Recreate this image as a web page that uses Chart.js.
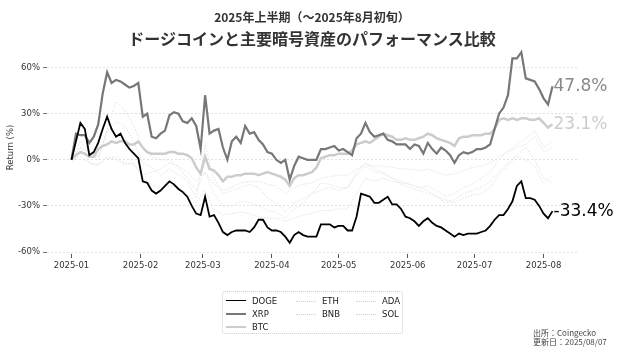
<!DOCTYPE html>
<html lang="ja">
<head>
<meta charset="utf-8">
<script src="https://cdn.jsdelivr.net/npm/chart.js@4.4.0/dist/chart.umd.min.js"></script>
<style>
  body { margin: 0; background: #fff; }
  #wrap { position: relative; width: 624px; height: 351px; font-family: 'DejaVu Sans', sans-serif; color: #333; }
  #chart { position: absolute; left: 0; top: 0; }
  .title { position: absolute; left: 0; width: 624px; text-align: center; font-family: 'Noto Sans CJK JP', sans-serif; font-weight: bold; color: #333; }
  #title1 { top: 10px; font-size: 12px; line-height: 14px; }
  #title2 { top: 28px; font-size: 16px; line-height: 20px; }
  #legend { position: absolute; left: 222px; top: 291px; width: 179px; height: 41px; border: 1px dotted #ccc; border-radius: 3px; }
  .lg-line { position: absolute; width: 20px; height: 0; }
  .lg-text { position: absolute; font-size: 8.5px; line-height: 10px; color: #222; }
  #source { position: absolute; left: 533px; top: 329px; font-family: 'Noto Sans CJK JP', sans-serif; font-size: 8px; line-height: 8.5px; color: #444; }
</style>
</head>
<body>
<div id="wrap">
  <canvas id="chart" width="624" height="351"></canvas>
  <div class="title" id="title1">2025年上半期（～2025年8月初旬）</div>
  <div class="title" id="title2">ドージコインと主要暗号資産のパフォーマンス比較</div>
  <div id="legend"></div>
  <div id="source">出所：Coingecko<br>更新日：2025/08/07</div>
</div>
<script>
// 月初の位置（1月1日からの日数）と表示ラベル
const monthDays = [0, 31, 59, 90, 120, 151, 181, 212];
const monthLabels = ['2025-01', '2025-02', '2025-03', '2025-04', '2025-05', '2025-06', '2025-07', '2025-08'];
const yTicks = [-60, -30, 0, 30, 60];

// 主要3銘柄：2日おきのリターン(%)
const doge = [
  0, 12, 24, 20, 3, 5, 11, 20, 28, 20,
  15, 17, 11, 7, 4, 1, -14, -15, -20, -22,
  -20, -17, -14, -16, -19, -21, -24, -30, -35, -36,
  -24, -37, -36, -41, -47, -49, -47, -46, -46, -46,
  -47, -44, -39, -39, -44, -46, -46, -47, -50, -54,
  -49, -47, -49, -50, -50, -50, -42, -42, -42, -44,
  -43, -43, -46, -46, -37, -22, -23, -24, -28, -28,
  -26, -24, -29, -29, -32, -37, -38, -40, -43, -40,
  -38, -41, -43, -44, -46, -48, -50, -48, -49, -48,
  -48, -48, -47, -46, -43, -39, -36, -36, -32, -27,
  -17, -14, -25, -25, -26, -30, -35, -38, -33.4
];
const xrp = [
  0, 17, 16, 16, 11, 15, 23, 43, 57, 50,
  52, 51, 49, 47, 48, 50, 28, 30, 15, 14,
  17, 19, 29, 31, 30, 25, 24, 27, 22, 7,
  42, 17, 19, 20, 8, 0, 12, 15, 11, 22,
  17, 18, 13, 10, 5, 4, 0, -2, 0, -13,
  -4, 2, 1, 0, 0, 0, 7, 7, 8, 9,
  6, 7, 5, 3, 14, 17, 24, 18, 15, 16,
  17, 13, 12, 10, 10, 10, 7, 10, 9, 4,
  11, 7, 4, 8, 6, 3, -2, 3, 5, 4,
  5, 7, 7, 8, 10, 20, 30, 34, 42, 66,
  66, 70, 53, 52, 51, 46, 40, 36, 47.8
];
const btc = [
  0, 3, 5, 4, 2, 2, 7, 9, 10, 12,
  11, 12, 12, 10, 10, 12, 8, 5, 4, 4,
  4, 4, 5, 5, 4, 4, 3, 1, -5, -9,
  2, -6, -7, -10, -14, -11, -11, -10, -10, -9,
  -9, -9, -10, -9, -8, -9, -10, -11, -13, -17,
  -12, -10, -10, -9, -8, -5, 1, 2, 3, 3,
  4, 4, 4, 6, 10, 11, 12, 11, 13, 15,
  17, 16, 15, 13, 13, 14, 13, 13, 14, 15,
  17, 16, 14, 13, 12, 11, 9, 14, 15, 15,
  16, 16, 16, 17, 17, 20, 26, 27, 26, 27,
  26, 27, 27, 26, 26, 27, 24, 21, 23.1
];

// その他4銘柄：4日おきのリターン(%)
const eth = [
  0, 8, -2, -4, 2, 0, -3, -2, -12, -16,
  -18, -17, -18, -22, -28, -20, -32, -36, -35, -34,
  -35, -37, -38, -38, -40, -38, -36, -35, -33, -33,
  -32, -32, -22, -12, -14, -12, -14, -15, -16, -18,
  -17, -20, -24, -22, -18, -16, -12, -8, 0, 6,
  10, 14, 19, 8, 12
];
const bnb = [
  0, 2, -2, -3, 1, 2, -2, -3, -10, -8,
  -6, -2, -4, -8, -14, -8, -16, -20, -18, -15,
  -14, -14, -16, -17, -22, -18, -16, -15, -12, -11,
  -10, -10, -6, -3, -4, -4, -5, -6, -6, -7,
  -6, -8, -10, -9, -7, -5, -4, -2, 2, 5,
  8, 10, 15, 5, 8
];
const ada = [
  0, 12, 5, 2, 18, 25, 22, 12, -2, -5,
  -10, -6, -10, -14, -25, 10, -12, -22, -20, -18,
  -16, -18, -25, -28, -34, -28, -25, -22, -15, -16,
  -18, -18, -8, -2, -6, -8, -12, -14, -16, -18,
  -20, -24, -26, -28, -25, -23, -22, -18, -10, -4,
  2, 0, -4, -16, -10
];
const sol = [
  0, 8, 5, 0, 20, 38, 32, 22, 8, 2,
  0, 0, -5, -12, -20, -8, -22, -30, -30, -27,
  -28, -30, -33, -34, -38, -32, -28, -22, -20, -18,
  -20, -18, -10, -4, -8, -9, -12, -16, -18, -20,
  -22, -24, -28, -26, -22, -20, -18, -14, -8, -2,
  3, 8, 0, -12, -15
];

function toPoints(values, step) {
  return values.map((v, i) => ({ x: i * step, y: v }));
}

const faintColor = '#e2e2e2';
const series = [
  { label: 'DOGE', data: doge, step: 2, color: '#000', width: 1.8, dash: [], endColor: '#000' },
  { label: 'XRP', data: xrp, step: 2, color: '#777', width: 2.2, dash: [], endColor: '#888' },
  { label: 'BTC', data: btc, step: 2, color: '#ccc', width: 2.5, dash: [], endColor: '#ccc' },
  { label: 'ETH', data: eth, step: 4, color: faintColor, width: 1, dash: [1.5, 1.5] },
  { label: 'BNB', data: bnb, step: 4, color: faintColor, width: 1, dash: [1.5, 1.5] },
  { label: 'ADA', data: ada, step: 4, color: faintColor, width: 1, dash: [1.5, 1.5] },
  { label: 'SOL', data: sol, step: 4, color: faintColor, width: 1, dash: [1.5, 1.5] }
];

const datasets = series.map(s => ({
  label: s.label,
  data: toPoints(s.data, s.step),
  borderColor: s.color,
  borderWidth: s.width,
  borderDash: s.dash,
  pointRadius: 0,
  tension: 0,
  fill: false,
  endLabel: s.endColor ? s.data[s.data.length - 1].toFixed(1) + '%' : null,
  endColor: s.endColor
}));

// 線の右端に最終リターンを表示
const endLabels = {
  id: 'endLabels',
  afterDatasetsDraw(chart) {
    const ctx = chart.ctx;
    chart.data.datasets.forEach((ds, i) => {
      if (!ds.endLabel) return;
      const pts = chart.getDatasetMeta(i).data;
      const last = pts[pts.length - 1];
      ctx.save();
      ctx.font = '17px "DejaVu Sans"';
      ctx.fillStyle = ds.endColor;
      ctx.textBaseline = 'middle';
      ctx.fillText(ds.endLabel, last.x + 1, last.y);
      ctx.restore();
    });
  }
};

const tickFont = { family: 'DejaVu Sans', size: 8.5 };

new Chart(document.getElementById('chart'), {
  type: 'line',
  data: { datasets },
  options: {
    responsive: false,
    animation: false,
    devicePixelRatio: 1,
    layout: { padding: { top: 41, right: 47, left: 0, bottom: 0 } },
    plugins: { legend: { display: false }, tooltip: { enabled: false } },
    scales: {
      x: {
        type: 'linear',
        min: -11,
        max: 227,
        afterBuildTicks: scale => { scale.ticks = monthDays.map(v => ({ value: v })); },
        afterFit: scale => { scale.height = 97; },
        ticks: {
          font: tickFont,
          color: '#333',
          padding: 3,
          maxRotation: 0,
          autoSkip: false,
          callback: v => monthLabels[monthDays.indexOf(v)]
        },
        grid: { drawOnChartArea: false, drawTicks: true, tickLength: 4, tickColor: '#555' },
        border: { display: false }
      },
      y: {
        min: -61.3,
        max: 77.3,
        afterBuildTicks: scale => { scale.ticks = yTicks.map(v => ({ value: v })); },
        afterFit: scale => { scale.width = 47; },
        ticks: { font: tickFont, color: '#333', padding: 3, callback: v => v + '%' },
        grid: { color: '#d8d8d8', lineWidth: 0.8, tickLength: 4, tickColor: '#555', tickBorderDash: [] },
        border: { display: false, dash: [2, 2] },
        title: {
          display: true,
          text: 'Return (%)',
          font: { family: 'DejaVu Sans', size: 8.5 },
          color: '#333',
          padding: { top: 6, bottom: 0 }
        }
      }
    }
  },
  plugins: [endLabels]
});

// 凡例（3列、列方向に並べる）
const legendEl = document.getElementById('legend');
const legendCols = [3, 73, 133];
const legendRows = [9, 22, 35];
series.forEach((s, i) => {
  const col = i < 3 ? 0 : (i < 5 ? 1 : 2);
  const row = i < 3 ? i : (i < 5 ? i - 3 : i - 5);
  const line = document.createElement('div');
  line.className = 'lg-line';
  line.style.left = legendCols[col] + 'px';
  line.style.top = (legendRows[row] - Math.ceil(s.width) / 2) + 'px';
  line.style.borderTop = s.dash.length ? `1px dotted #d0d0d0` : `${s.width}px solid ${s.color}`;
  legendEl.appendChild(line);
  const txt = document.createElement('div');
  txt.className = 'lg-text';
  txt.style.left = (legendCols[col] + 26) + 'px';
  txt.style.top = (legendRows[row] - 5) + 'px';
  txt.textContent = s.label;
  legendEl.appendChild(txt);
});
</script>
</body>
</html>
